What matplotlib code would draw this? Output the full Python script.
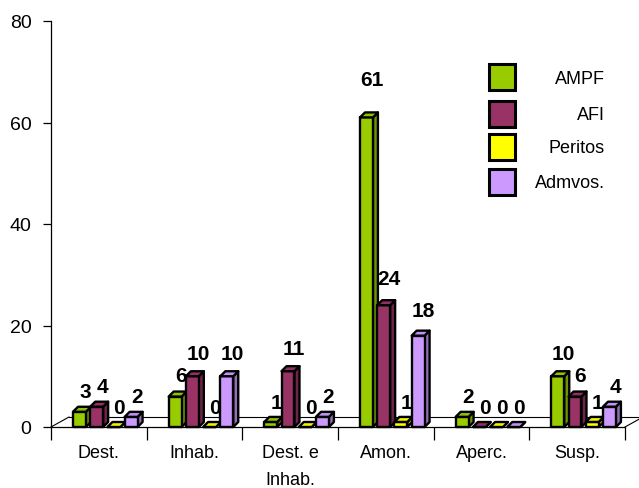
import matplotlib
matplotlib.use("Agg")
import matplotlib.pyplot as plt
from matplotlib.patches import Polygon, Rectangle
import numpy as np

plt.rcParams['font.family'] = ['Liberation Sans', 'DejaVu Sans']

categories = ["Dest.", "Inhab.", "Dest. e\nInhab.", "Amon.", "Aperc.", "Susp."]
series_names = ["AMPF", "AFI", "Peritos", "Admvos."]
ampf = [3, 6, 1, 61, 2, 10]
afi = [4, 10, 11, 24, 0, 6]
peritos = [0, 0, 0, 1, 0, 1]
admvos = [2, 10, 2, 18, 0, 4]
series_values = [ampf, afi, peritos, admvos]
colors = ["#99CC00", "#993366", "#FFFF00", "#CC99FF"]
yticks = [0, 20, 40, 60, 80]

W, H = 639, 489
fig = plt.figure(figsize=(W / 100, H / 100), dpi=100)
ax_left, ax_right, ax_top, ax_bot = 51, 625, 22, 428
ax = fig.add_axes([ax_left / W, (H - ax_bot) / H, (ax_right - ax_left) / W, (ax_bot - ax_top) / H])
ax.set_xlim(0, len(categories))
ax.set_ylim(0, 80)

for s in ["top", "right"]:
    ax.spines[s].set_visible(False)
for s in ["left", "bottom"]:
    ax.spines[s].set_color("black")
    ax.spines[s].set_linewidth(0.9)

ax.set_yticks(yticks)
ax.set_yticklabels([str(t) for t in yticks], fontsize=14)
ax.tick_params(axis="y", direction="out", length=6, width=0.9, pad=8)
ax.set_xticks(np.arange(len(categories) + 1))
ax.set_xticklabels([])
ax.tick_params(axis="x", direction="out", length=9, width=0.9)
for i, c in enumerate(categories):
    ax.text(i + 0.5, -0.042, c, transform=ax.get_xaxis_transform(), ha="center", va="top",
            fontsize=13, linespacing=1.75)

# depth in pixels
px_x = (ax_right - ax_left) / len(categories)
px_y = (ax_bot - ax_top) / 80.0
dx = 5 / px_x
dy = 5 / px_y

# floor (pseudo 3D)
fdx, fdy = 18 / px_x, 10 / px_y
floor_kw = dict(color="black", lw=0.8, clip_on=False, zorder=1)
ax.plot([0, fdx], [0, fdy], **floor_kw)
ax.plot([fdx, len(categories) + fdx], [fdy, fdy], **floor_kw)
ax.plot([len(categories), len(categories) + fdx], [0, fdy], **floor_kw)


def shade(c, f):
    c = np.array(matplotlib.colors.to_rgb(c))
    return tuple(np.clip(c * f, 0, 1))


offset0, slot, bw = 0.23, 0.18, 0.135
lab_dx = 3 / px_x
for j, vals in enumerate(series_values):
    col = colors[j]
    for i, v in enumerate(vals):
        xl = i + offset0 + j * slot
        z = 3 + j
        ekw = dict(edgecolor="black", lw=1.7, joinstyle="round", zorder=z, clip_on=False)
        ax.add_patch(Polygon([(xl + bw, 0), (xl + bw + dx, dy), (xl + bw + dx, v + dy), (xl + bw, v)],
                             closed=True, facecolor=shade(col, 0.72), **ekw))
        ax.add_patch(Polygon([(xl, 0), (xl + bw, 0), (xl + bw, v), (xl, v)],
                             closed=True, facecolor=col, **ekw))
        ax.add_patch(Polygon([(xl, v), (xl + dx, v + dy), (xl + bw + dx, v + dy), (xl + bw, v)],
                             closed=True, facecolor=shade(col, 0.95), **ekw))
        ax.text(xl + bw / 2 + dx / 2 + lab_dx, 1.06 * v + 3.8, str(v), ha="center", va="center",
                fontsize=15, fontweight="bold", zorder=10)

# legend
def fig_px(x, y):
    return x / W, 1 - y / H

box_tops = [65, 101.5, 135, 169.5]
for j, name in enumerate(series_names):
    x0, y0 = fig_px(489, box_tops[j] + 26)
    fig.patches.append(Rectangle((x0, y0), 26 / W, 26 / H, transform=fig.transFigure,
                                 facecolor=colors[j], edgecolor="black", lw=2.2))
    tx, ty = fig_px(605, box_tops[j] + 14)
    fig.text(tx, ty, name, ha="right", va="center", fontsize=13)

fig.savefig("out.png", dpi=100)
